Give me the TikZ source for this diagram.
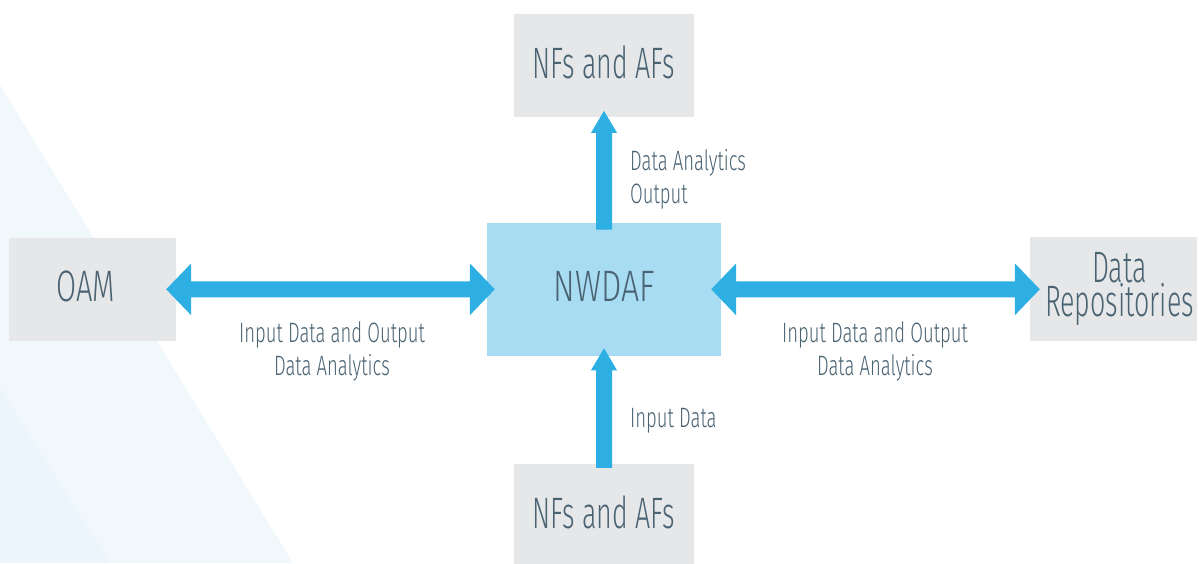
\documentclass[tikz,border=0pt]{standalone}
\usepackage{fontspec}
\setmainfont{Fira Sans Light}[FakeStretch=0.66]
\newfontfamily\narrowfont{Fira Sans Light}[FakeStretch=0.61]
\newfontfamily\widerfont{Fira Sans Light}[FakeStretch=0.73]
\usetikzlibrary{calc}

\definecolor{boxgrey}{HTML}{E6E7E8}
\definecolor{corefill}{HTML}{A8DCF2}
\definecolor{flowblue}{HTML}{2EAFE4}
\definecolor{inktext}{HTML}{4A6373}
\definecolor{shadeA}{HTML}{F1F8FC}
\definecolor{shadeB}{HTML}{ECF5FB}

\tikzset{
  entity/.style={fill=boxgrey, draw=none, inner sep=0pt, text=inktext,
    font=\fontsize{44}{34}\selectfont, align=center},
  narrowentity/.style={entity, font=\narrowfont\fontsize{44}{34}\selectfont},
  lifted/.style={text depth=6pt},
  core/.style={entity, lifted, fill=corefill, font=\widerfont\fontsize{44}{34}\selectfont},
  flow/.style={fill=flowblue, draw=none},
  caption/.style={text=inktext, inner sep=0pt,
    font=\fontsize{28}{33}\selectfont},
}

\begin{document}
\begin{tikzpicture}[x=1pt, y=-1pt]
  \useasboundingbox (0,0) rectangle (1199,563);
  \clip (0,0) rectangle (1199,563);

  % soft background wedge
  \fill[shadeA] (0,85) -- (293,563) -- (0,563) -- cycle;
  \fill[shadeB] (0,388) -- (110,563) -- (0,563) -- cycle;

  % network entities
  \node[narrowentity, lifted, minimum width=180pt, minimum height=102.7pt] (nftop) at (604,65.3) {NFs and AFs};
  \node[entity, lifted, minimum width=167pt, minimum height=102.4pt] (oam) at (92.5,289.5) {\hspace*{-14pt}OAM};
  \node[core, minimum width=234pt, minimum height=132.7pt] (nwdaf) at (604,289.2) {NWDAF};
  \node[narrowentity, minimum width=167pt, minimum height=103.4pt] (repo) at (1113.5,289)
    {\makebox[140pt]{\hspace*{12pt}Data}\\\makebox[140pt]{\hspace*{12pt}Repositories}};
  \node[narrowentity, lifted, minimum width=180pt, minimum height=102pt] (nfbot) at (604,515) {NFs and AFs};

  % end points of the flows (tips reach slightly into the boxes)
  \coordinate (oamR)  at ($(oam.east)+(-10,-0.2)$);
  \coordinate (nwL)   at ($(nwdaf.west)+(8,0.1)$);
  \coordinate (nwR)   at ($(nwdaf.east)+(-10,0.1)$);
  \coordinate (repoL) at ($(repo.west)+(10,0.3)$);
  \coordinate (nwT)   at ($(nwdaf.north)+(0,7)$);
  \coordinate (topB)  at ($(nftop.south)+(0,-6)$);
  \coordinate (botT)  at ($(nfbot.north)+(0,4)$);
  \coordinate (nwB)   at ($(nwdaf.south)+(0,-7.5)$);

  % data flows: wide shafts with triangular heads
  \fill[flow] (oamR) -- ++(25,-26) -- ++(0,18) -- ($(nwL)+(-25,-8)$) -- ++(0,-18) -- (nwL)
    -- ++(-25,26) -- ++(0,-18) -- ($(oamR)+(25,8)$) -- ++(0,18) -- cycle;
  \fill[flow] (nwR) -- ++(25,-26) -- ++(0,18) -- ($(repoL)+(-25,-8)$) -- ++(0,-18) -- (repoL)
    -- ++(-25,26) -- ++(0,-18) -- ($(nwR)+(25,8)$) -- ++(0,18) -- cycle;
  \fill[flow] (topB) -- ++(13,22) -- ++(-5,0) -- ($(nwT)+(8,0)$) -- ++(-16,0)
    -- ($(topB)+(-8,22)$) -- ++(-5,0) -- cycle;
  \fill[flow] (nwB) -- ++(13,22) -- ++(-5,0) -- ($(botT)+(8,0)$) -- ++(-16,0)
    -- ($(nwB)+(-8,22)$) -- ++(-5,0) -- cycle;

  % flow captions
  \node[caption, anchor=west, align=left] (lblout) at (630,179) {Data Analytics\\Output};
  \node[caption, anchor=west] (lblin) at (630,421) {Input Data};
  \node[caption, align=center] (lblleft) at (332,351) {Input Data and Output\\Data Analytics};
  \node[caption, align=center] (lblright) at (875,351) {Input Data and Output\\Data Analytics};
\end{tikzpicture}
\end{document}
